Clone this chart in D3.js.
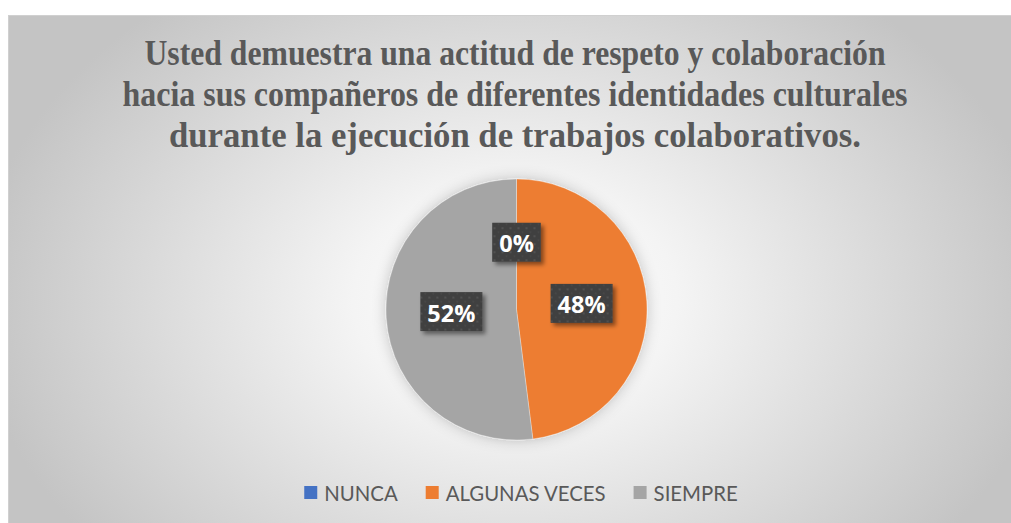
<!DOCTYPE html>
<html>
<head>
<meta charset="utf-8">
<script src="https://cdn.jsdelivr.net/npm/d3@7"></script>
<style>
  html, body { margin: 0; padding: 0; background: #ffffff; }
  svg { display: block; }
  .ttl { font-family: "Liberation Serif", Tinos, "Times New Roman", "DejaVu Serif", serif; }
</style>
</head>
<body>
<svg id="chart" width="1011" height="523"></svg>
<script>
// ---- data ----
const categories = ["NUNCA", "ALGUNAS VECES", "SIEMPRE"];
const values = [0, 48, 52];
const labels = ["0%", "48%", "52%"];
const colors = ["#4472C4", "#ED7D31", "#A5A5A5"];
const titleLines = [
  "Usted demuestra una actitud de respeto y colaboración",
  "hacia sus compañeros de diferentes identidades culturales",
  "durante la ejecución de trabajos colaborativos."
];

const W = 1011, H = 523;
const svg = d3.select("#chart");
const defs = svg.append("defs");

// background gradient
const bg = defs.append("radialGradient").attr("id", "bgGrad")
  .attr("gradientUnits", "userSpaceOnUse")
  .attr("cx", 515).attr("cy", 300).attr("r", 540)
  .attr("gradientTransform", "translate(515,300) scale(1,0.72) translate(-515,-300)");
bg.append("stop").attr("offset", "0%").attr("stop-color", "#ffffff");
bg.append("stop").attr("offset", "30%").attr("stop-color", "#f4f4f4");
bg.append("stop").attr("offset", "100%").attr("stop-color", "#c4c4c4");

// pie shadow
const ps = defs.append("filter").attr("id", "pieShadow")
  .attr("x", "-30%").attr("y", "-30%").attr("width", "160%").attr("height", "160%");
ps.append("feDropShadow").attr("dx", 0).attr("dy", 0).attr("stdDeviation", 7)
  .attr("flood-color", "#000").attr("flood-opacity", 0.22);

// label shadow
const ls = defs.append("filter").attr("id", "lblShadow")
  .attr("x", "-30%").attr("y", "-30%").attr("width", "170%").attr("height", "170%");
ls.append("feDropShadow").attr("dx", 3).attr("dy", 3).attr("stdDeviation", 2.2)
  .attr("flood-color", "#000").attr("flood-opacity", 0.45);

// dotted pattern for label boxes
const pat = defs.append("pattern").attr("id", "dots")
  .attr("patternUnits", "userSpaceOnUse").attr("width", 8).attr("height", 8);
pat.append("rect").attr("width", 8).attr("height", 8).attr("fill", "#404040");
pat.append("circle").attr("cx", 2).attr("cy", 2).attr("r", 1).attr("fill", "#575757");
pat.append("circle").attr("cx", 6).attr("cy", 6).attr("r", 0.8).attr("fill", "#4d4d4d");

// chart area
svg.append("rect").attr("x", 8.5).attr("y", 15.5)
  .attr("width", W - 8).attr("height", H - 15)
  .attr("fill", "url(#bgGrad)").attr("stroke", "#d0d0d0").attr("stroke-width", 1);

// title
const titleY = [53, 94, 135];
const titleW = [741, 785, 692];
svg.append("g").selectAll("text").data(titleLines).join("text")
  .attr("class", "ttl")
  .attr("x", 515).attr("y", (d, i) => titleY[i])
  .attr("text-anchor", "middle").attr("dominant-baseline", "central")
  .attr("font-weight", "bold").attr("font-size", 35)
  .attr("textLength", (d, i) => titleW[i]).attr("lengthAdjust", "spacingAndGlyphs")
  .attr("fill", "#595959")
  .text(d => d);

// pie
const cx = 516.5, cy = 309.5, R = 130.5;
const pie = d3.pie().sort(null).value(d => d)(values);
const arc = d3.arc().innerRadius(0).outerRadius(R);
const pieG = svg.append("g").attr("transform", `translate(${cx},${cy})`);
pieG.append("g").attr("filter", "url(#pieShadow)")
  .selectAll("path").data(pie).join("path")
  .attr("d", arc).attr("fill", (d, i) => colors[i])
  .attr("stroke", "#ffffff").attr("stroke-width", 0.6).attr("stroke-opacity", 0.5);

// data labels
const lblG = pieG.append("g");
pie.forEach((d, i) => {
  const [x, y] = arc.centroid(d);
  const g = lblG.append("g").attr("transform", `translate(${x},${y - 2})`);
  const box = g.append("rect").attr("fill", "url(#dots)").attr("filter", "url(#lblShadow)");
  const t = g.append("text").attr("text-anchor", "middle").attr("dominant-baseline", "central")
    .attr("font-family", "'Open Sans', 'DejaVu Sans', sans-serif")
    .attr("font-weight", "bold").attr("font-size", 23.5).attr("fill", "#ffffff")
    .attr("y", 1)
    .text(labels[i]);
  const tw = t.node().getComputedTextLength();
  const bw = tw + 14, bh = 39;
  box.attr("x", -bw / 2).attr("y", -bh / 2).attr("width", bw).attr("height", bh);
});

// legend
const legG = svg.append("g");
const legItems = legG.selectAll("g").data(categories).join("g");
legItems.append("rect").attr("width", 13).attr("height", 13).attr("y", -7)
  .attr("fill", (d, i) => colors[i]);
const legText = legItems.append("text").attr("x", 20).attr("y", 0)
  .attr("dominant-baseline", "central")
  .attr("font-family", "Lato, 'Open Sans', sans-serif")
  .attr("font-size", 21).attr("fill", "#595959")
  .text(d => d);
const aw = legText.nodes()[1].getComputedTextLength();
legText.attr("font-size", 21 * 160 / aw);
const widths = legText.nodes().map(n => n.getComputedTextLength());
const gap = 28;
const total = widths.reduce((s, w) => s + 20 + w, 0) + gap * (widths.length - 1);
let lx = 521 - total / 2;
legItems.each(function(d, i) {
  d3.select(this).attr("transform", `translate(${lx},493)`);
  lx += 20 + widths[i] + gap;
});
</script>
</body>
</html>
